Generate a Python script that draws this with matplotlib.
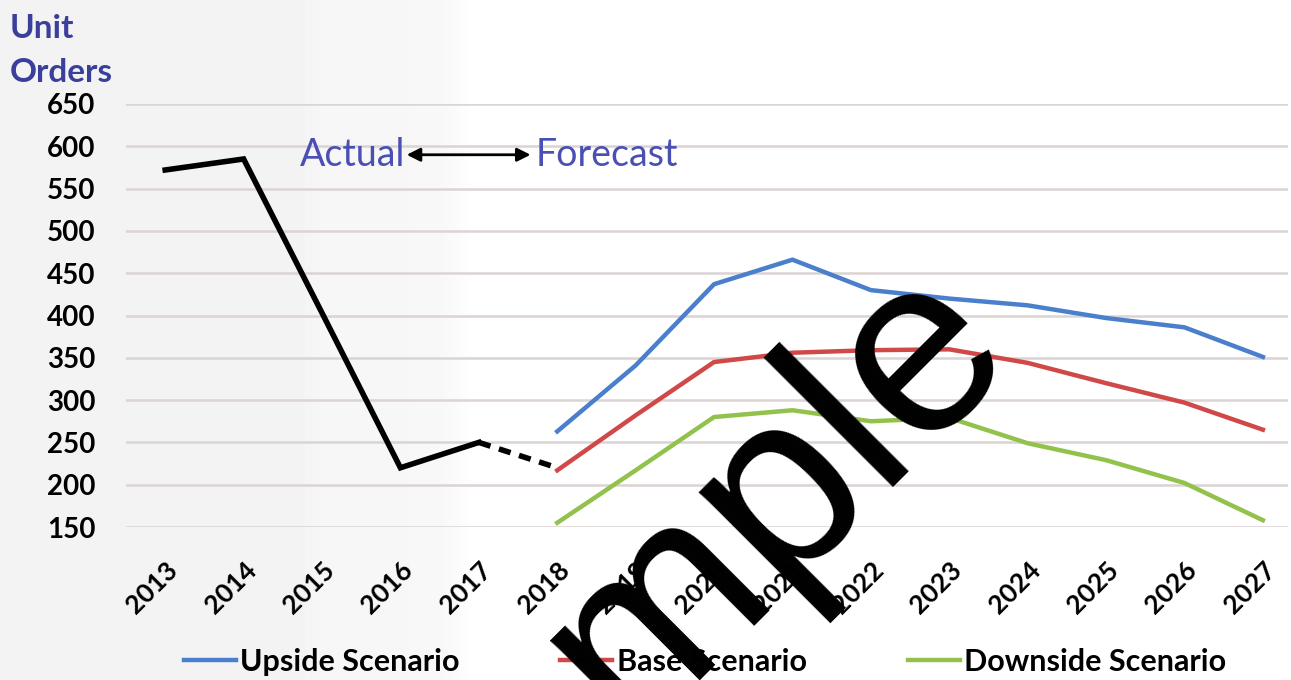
import numpy as np
import matplotlib
matplotlib.use("Agg")
import matplotlib.pyplot as plt

# data
years = [str(y) for y in range(2013, 2028)]
actual = [572, 585, 403, 220, 250]          # 2013-2017
bridge = [250, 220]                          # 2017-2018 dashed
upside = [263, 341, 437, 466, 430, 420, 412, 397, 386, 351]   # 2018-2027
base = [217, 282, 345, 356, 359, 360, 344, 320, 297, 265]
downside = [155, 217, 280, 288, 275, 279, 249, 229, 202, 158]
yticks = [150, 200, 250, 300, 350, 400, 450, 500, 550, 600, 650]

blue = "#4a7fcb"
red = "#d04848"
green = "#92c14c"
title_col = "#3a3f9c"
note_col = "#4a50b3"
plt.rcParams['font.family'] = ['Lato', 'DejaVu Sans']

fig = plt.figure(figsize=(12.91, 6.8), dpi=100)

# faint grey band behind the "actual" years
bg = fig.add_axes([0, 0, 1, 1], zorder=-5)
px = np.arange(1291)
shade = np.interp(px, [0, 300, 320, 440, 475, 1291], [0.955, 0.955, 0.965, 0.97, 1.0, 1.0])
bg.imshow(np.tile(shade, (10, 1)), cmap="gray", vmin=0, vmax=1, aspect="auto",
          extent=[0, 1, 0, 1])
bg.set_xlim(0, 1)
bg.set_ylim(0, 1)
bg.axis("off")

ax = fig.add_axes([126 / 1291, 1 - 527 / 680, (1288 - 126) / 1291, (527 - 104) / 680])
ax.set_facecolor("none")

x_act = np.arange(0, 5)
x_fc = np.arange(5, 15)
ax.plot(x_act, actual, color="black", lw=4, solid_joinstyle="miter")
ax.plot([4, 5], bridge, color="black", lw=4, ls=(0, (2.2, 1.6)))
ax.plot(x_fc, upside, color=blue, lw=3.2, label="Upside Scenario")
ax.plot(x_fc, base, color=red, lw=3.2, label="Base Scenario")
ax.plot(x_fc, downside, color=green, lw=3.2, label="Downside Scenario")

ax.set_xlim(-0.5, 14.32)
ax.set_ylim(150, 650)
ax.set_yticks(yticks)
ax.set_yticklabels([str(v) for v in yticks], fontsize=20, fontweight="bold")
ax.set_xticks(np.arange(len(years)))
ax.set_xticklabels(years, fontsize=19, fontweight="bold", rotation=45,
                   ha="right", rotation_mode="anchor")
ax.tick_params(axis="y", length=0, pad=22)
ax.tick_params(axis="x", length=0, pad=22)
ax.grid(axis="y", color="#dcd3d3", lw=1.8)
ax.set_axisbelow(True)
for s in ax.spines.values():
    s.set_visible(False)

# actual / forecast annotation
ax.text(3.06, 590, "Actual", color=note_col, fontsize=27, ha="right", va="center")
ax.text(4.72, 590, "Forecast", color=note_col, fontsize=27, ha="left", va="center")
ax.annotate("", xy=(4.66, 590), xytext=(3.08, 590),
            arrowprops=dict(arrowstyle="<|-|>", color="black", lw=2,
                            mutation_scale=20, shrinkA=0, shrinkB=0))

fig.text(10 / 1291, 1 - 38 / 680, "Unit", color=title_col, fontsize=24,
         fontweight="bold", ha="left", va="baseline")
fig.text(10 / 1291, 1 - 82 / 680, "Orders", color=title_col, fontsize=24,
         fontweight="bold", ha="left", va="baseline")

fig.legend(loc="center", bbox_to_anchor=(705 / 1291, 1 - 662 / 680), ncol=3,
           frameon=False, prop={"weight": "bold", "size": 22},
           handlelength=1.7, handletextpad=0.15, columnspacing=3.3)

# watermark
fig.text(715 / 1291, 1 - 654 / 680, "Sample", fontsize=182, rotation=45,
         ha="center", va="baseline", rotation_mode="anchor",
         family="Liberation Sans", color="black", zorder=20)

fig.savefig("out.png", dpi=100)
